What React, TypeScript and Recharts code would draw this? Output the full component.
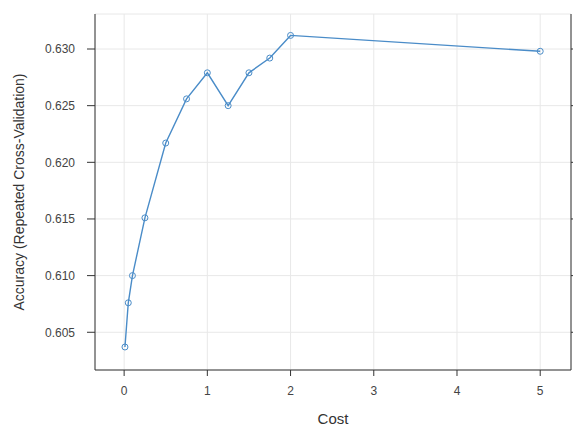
import React from "react";
import { CartesianGrid, Label, Line, LineChart, XAxis, YAxis } from "recharts";

const costs = [0.01, 0.05, 0.1, 0.25, 0.5, 0.75, 1, 1.25, 1.5, 1.75, 2, 5];
const accuracy = [0.6037, 0.6076, 0.61, 0.6151, 0.6217, 0.6256, 0.6279, 0.625, 0.6279, 0.6292, 0.6312, 0.6298];
const xTicks = [0, 1, 2, 3, 4, 5];
const yTicks = [0.605, 0.61, 0.615, 0.62, 0.625, 0.63];

const data = costs.map((c, i) => ({ cost: c, acc: accuracy[i] }));

const FONT = "'Liberation Sans', Arial, sans-serif";
const AXIS = "#333";
const LINE = "#4a8cc8";

const xDomain = [-0.35, 5.37];
const yDomain = [0.60167, 0.63309];

export default function App() {
  return (
    <div style={{ position: "absolute", left: 0, top: 0, width: 573, height: 426, background: "#fff" }}>
      <LineChart width={573} height={426} data={data} margin={{ top: 14, right: 0, left: 0, bottom: 0 }}>
        <CartesianGrid stroke="#e8e8e8" strokeWidth={1} />
        <XAxis
          dataKey="cost"
          type="number"
          domain={xDomain}
          allowDataOverflow
          ticks={xTicks}
          height={56}
          stroke={AXIS}
          tickSize={6}
          tickMargin={10}
          tick={{ fontSize: 12, fill: "#444", fontFamily: FONT }}
        >
          <Label value="Cost" position="insideBottom" offset={2} style={{ fontSize: 15, fill: "#333", fontFamily: FONT }} />
        </XAxis>
        <XAxis
          xAxisId="top"
          orientation="top"
          type="number"
          domain={xDomain}
          allowDataOverflow
          ticks={xTicks}
          height={0}
          stroke={AXIS}
          tickSize={7}
          tickFormatter={() => ""}
        />
        <YAxis
          type="number"
          domain={yDomain}
          allowDataOverflow
          ticks={yTicks}
          width={95}
          stroke={AXIS}
          tickSize={8}
          tickMargin={12}
          tickFormatter={(v: number) => v.toFixed(3)}
          tick={{ fontSize: 12, fill: "#444", fontFamily: FONT }}
        >
          <Label
            value="Accuracy (Repeated Cross-Validation)"
            angle={-90}
            position="insideLeft"
            offset={19}
            style={{ fontSize: 14, fill: "#333", fontFamily: FONT, textAnchor: "middle" }}
          />
        </YAxis>
        <YAxis
          yAxisId="right"
          orientation="right"
          type="number"
          domain={yDomain}
          allowDataOverflow
          ticks={yTicks}
          width={2}
          stroke={AXIS}
          tickSize={6}
          tickFormatter={() => ""}
        />
        <Line
          type="linear"
          dataKey="acc"
          stroke={LINE}
          strokeWidth={1.4}
          dot={{ r: 3, fill: "none", stroke: LINE, strokeWidth: 1 }}
          isAnimationActive={false}
        />
      </LineChart>
    </div>
  );
}
